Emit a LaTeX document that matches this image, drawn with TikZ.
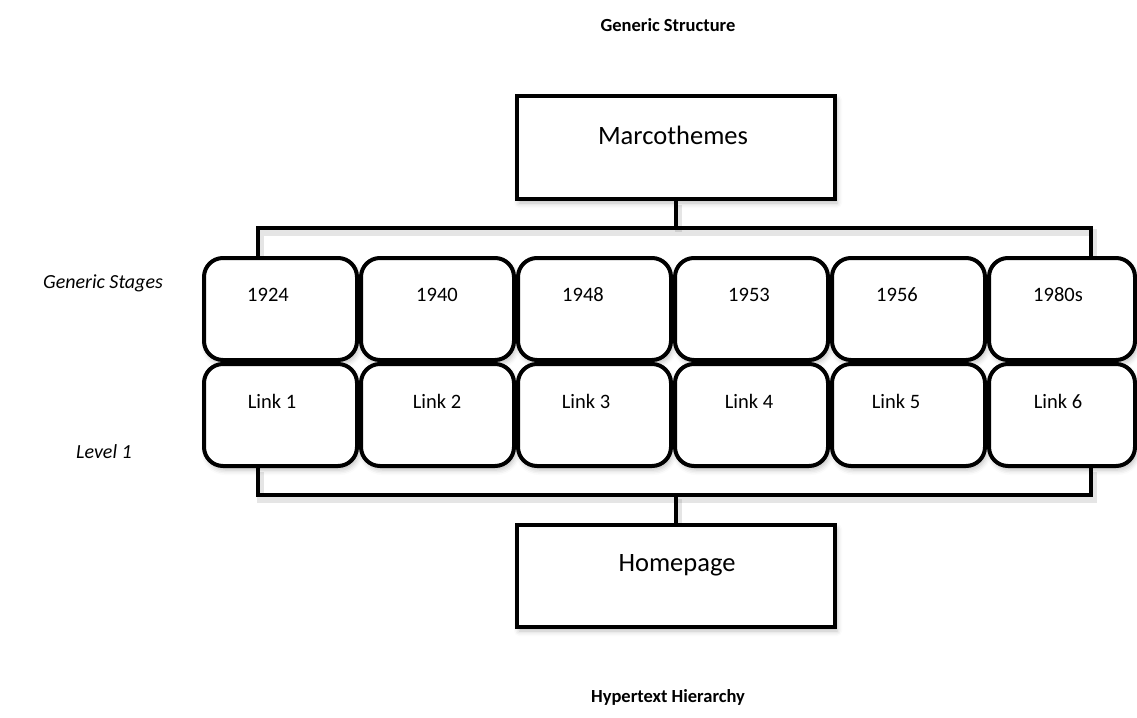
\documentclass[tikz,border=0pt]{standalone}
\usepackage{fontspec}
\setmainfont{Carlito}
\usetikzlibrary{shadows.blur}

\tikzset{
  frame/.style={draw, line width=4pt, fill=white, inner sep=0pt,
    blur shadow={shadow xshift=2pt, shadow yshift=-4pt, shadow blur radius=5pt, shadow opacity=25}},
  stage/.style={frame, rounded corners=19pt, minimum height=102pt},
  wire/.style={line width=4pt,
    preaction={draw=black, draw opacity=0.1, line width=7pt, transform canvas={xshift=2pt, yshift=-4pt}}},
  stagetext/.style={font=\fontsize{20.5}{24}\selectfont},
  bigtext/.style={font=\fontsize{26.5}{31}\selectfont},
  title/.style={font=\fontsize{18.5}{22}\selectfont\bfseries},
  side/.style={font=\fontsize{20}{24}\selectfont\itshape},
}

\begin{document}
\begin{tikzpicture}[x=1pt, y=-1pt]
    \useasboundingbox (0,0) rectangle (1137,717);
    % headings
    \node[title] (head) at (668,25) {Generic Structure};
    \node[title] (foot) at (668,697) {Hypertext Hierarchy};
    \node[side] (gstages) at (103,283) {Generic Stages};
    \node[side] (level) at (104,452) {Level 1};
    % top and bottom boxes
    \node[frame, minimum width=318pt, minimum height=103pt] (macro) at (676,147.5) {};
    \node[bigtext] at (673,135) {Marcothemes};
    \node[frame, minimum width=318pt, minimum height=102pt] (home) at (676,576) {};
    \node[bigtext] at (677,565) {Homepage};
    % row of stages
    \node[stage, minimum width=153pt] (s1) at (280.5,309) {};
    \node[stage, minimum width=153pt] (s2) at (437.5,309) {};
    \node[stage, minimum width=153pt] (s3) at (594.5,309) {};
    \node[stage, minimum width=153pt] (s4) at (751.5,309) {};
    \node[stage, minimum width=153pt] (s5) at (908.5,309) {};
    \node[stage, minimum width=146pt] (s6) at (1062,309) {};
    \node[stagetext] (y1) at (268,295) {1924};
    \node[stagetext] (y2) at (437,295) {1940};
    \node[stagetext] (y3) at (583,295) {1948};
    \node[stagetext] (y4) at (749,295) {1953};
    \node[stagetext] (y5) at (897,295) {1956};
    \node[stagetext] (y6) at (1058,295) {1980s};
    % row of links
    \node[stage, minimum width=153pt] (l1) at (280.5,415) {};
    \node[stage, minimum width=153pt] (l2) at (437.5,415) {};
    \node[stage, minimum width=153pt] (l3) at (594.5,415) {};
    \node[stage, minimum width=153pt] (l4) at (751.5,415) {};
    \node[stage, minimum width=153pt] (l5) at (908.5,415) {};
    \node[stage, minimum width=146pt] (l6) at (1062,415) {};
    \node[stagetext] (k1) at (272,401) {Link 1};
    \node[stagetext] (k2) at (437,401) {Link 2};
    \node[stagetext] (k3) at (586,401) {Link 3};
    \node[stagetext] (k4) at (749,401) {Link 4};
    \node[stagetext] (k5) at (896,401) {Link 5};
    \node[stagetext] (k6) at (1058,401) {Link 6};
    % brackets
    \coordinate (tl) at (258,228);
    \coordinate (tr) at (1091,228);
    \coordinate (bl) at (258,495);
    \coordinate (br) at (1091,495);
    \draw[wire] (tl |- s1.north) -- (tl) -- (tr) -- (tr |- s6.north);
    \draw[wire] (macro.south) -- (macro.south |- tl);
    \draw[wire] (bl |- l1.south) -- (bl) -- (br) -- (br |- l6.south);
    \draw[wire] (home.north) -- (home.north |- bl);
\end{tikzpicture}
\end{document}
